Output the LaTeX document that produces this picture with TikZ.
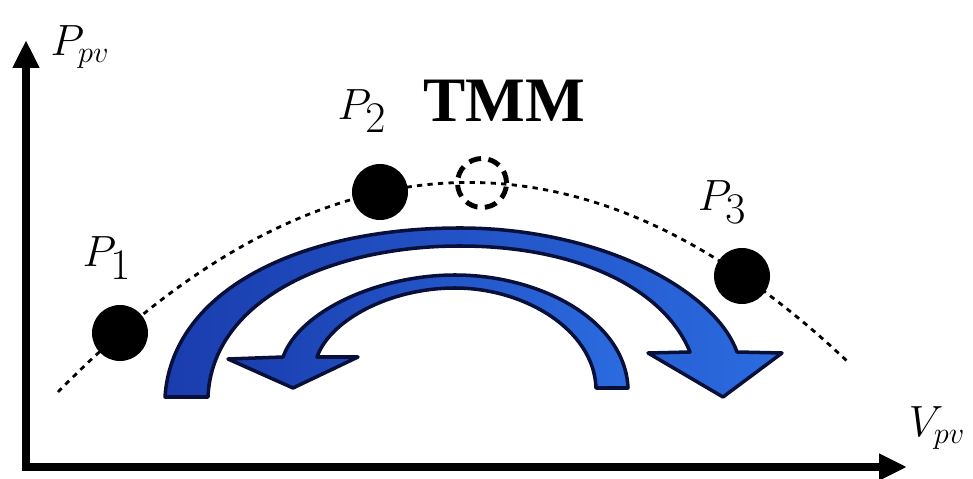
\documentclass[tikz,border=0pt]{standalone}
\usepackage{fontspec}
\setmainfont{Liberation Serif}
\usetikzlibrary{arrows.meta}
\definecolor{arrowdark}{HTML}{1A3DAE}
\definecolor{arrowlight}{HTML}{2B6BE0}
\definecolor{arrowedge}{HTML}{08103A}

\begin{document}
\begin{tikzpicture}[
    x=0.2mm, y=-0.2mm,
    axis/.style={line width=4pt, line join=miter,
                 {Triangle[width=5mm,length=5.6mm]}-{Triangle[width=5mm,length=5.6mm]}},
    guide/.style={line width=1.6pt, dash pattern=on 3pt off 3pt},
    pt/.style={circle, fill=black, minimum size=11.2mm, inner sep=0pt},
    tmmpt/.style={circle, draw, line width=2.8pt, dash pattern=on 7pt off 4.2pt,
                  minimum size=9.8mm, inner sep=0pt},
    lbl/.style={inner sep=0pt, font=\fontsize{35}{40}\selectfont},
    axlbl/.style={inner sep=0pt, font=\fontsize{25}{30}\selectfont},
    band/.style={draw=arrowedge, line width=2pt, line join=round,
                 left color=arrowdark, right color=arrowlight},
  ]
    \useasboundingbox (0,0) rectangle (973,479);
    \coordinate (o) at (26,467);
    \coordinate (ytip) at (26,40);
    \coordinate (xtip) at (907,467);
    \draw[axis] (ytip) -- (o) -- (xtip);
    \node[axlbl] (ylab) at (80,47) {$P_{pv}$};
    \node[axlbl] (xlab) at (937,428) {$V_{pv}$};
    \coordinate (cs) at (58,392);
    \coordinate (ce) at (848,362);
    \draw[guide] (cs) .. controls (322,123) and (585,113) .. (ce);
    \node[pt] (p1) at (120,333) {};
    \node[pt] (p2) at (380,192) {};
    \node[pt] (p3) at (742,276) {};
    \node[tmmpt] (tmm) at (482,183) {};
    \node[lbl] (p1lab) at (107,258) {$P_1$};
    \node[lbl] (p2lab) at (362,111) {$P_2$};
    \node[lbl] (p3lab) at (722,202) {$P_3$};
    \node[inner sep=0pt, font=\fontsize{36}{40}\selectfont\bfseries] (tmmlab) at (504,101) {TMM};
    \draw[band] (165,397) .. controls (172,290) and (300,228) .. (460,228)
      .. controls (600,228) and (715,290) .. (737,352)
      -- (782,353) -- (723,397) -- (648,353) -- (690,352)
      .. controls (665,290) and (580,246) .. (460,246)
      .. controls (330,246) and (212,300) .. (208,397) -- cycle;
    \draw[band] (628,388) .. controls (625,320) and (540,275) .. (455,275)
      .. controls (380,275) and (300,310) .. (283,357)
      -- (228,359) -- (293,388) -- (358,357) -- (317,357)
      .. controls (330,320) and (390,288) .. (455,288)
      .. controls (525,288) and (594,330) .. (596,388) -- cycle;
  \end{tikzpicture}
\end{document}
